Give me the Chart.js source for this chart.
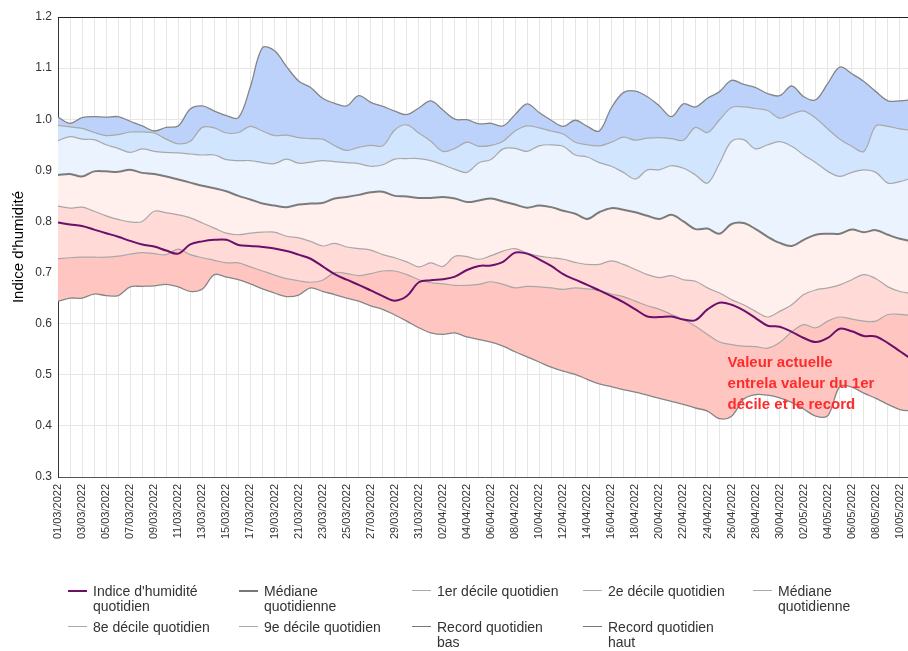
<!DOCTYPE html>
<html>
<head>
<meta charset="utf-8">
<script src="https://cdn.jsdelivr.net/npm/chart.js@4.4.1/dist/chart.umd.min.js"></script>
<style>
html, body { margin: 0; padding: 0; overflow: hidden; background: #fff; }
#wrap { position: relative; width: 908px; height: 651px; overflow: hidden; }
#chart { position: absolute; left: 0; top: 0; }
.leg { position: absolute; font: 14px "Liberation Sans", Arial, sans-serif; color: #333; line-height: 15px; }
.leg i { position: absolute; left: 0; width: 19px; }
.leg span { display: block; margin-left: 25px; white-space: nowrap; }
</style>
</head>
<body>
<div id="wrap">
  <canvas id="chart" width="913" height="651"></canvas>
  <div id="legend"></div>
</div>
<script>
// jours du 01/03/2022 au 11/05/2022
const days = [
  "01/03/2022","02/03/2022","03/03/2022","04/03/2022","05/03/2022","06/03/2022","07/03/2022","08/03/2022","09/03/2022","10/03/2022",
  "11/03/2022","12/03/2022","13/03/2022","14/03/2022","15/03/2022","16/03/2022","17/03/2022","18/03/2022","19/03/2022","20/03/2022",
  "21/03/2022","22/03/2022","23/03/2022","24/03/2022","25/03/2022","26/03/2022","27/03/2022","28/03/2022","29/03/2022","30/03/2022",
  "31/03/2022","01/04/2022","02/04/2022","03/04/2022","04/04/2022","05/04/2022","06/04/2022","07/04/2022","08/04/2022","09/04/2022",
  "10/04/2022","11/04/2022","12/04/2022","13/04/2022","14/04/2022","15/04/2022","16/04/2022","17/04/2022","18/04/2022","19/04/2022",
  "20/04/2022","21/04/2022","22/04/2022","23/04/2022","24/04/2022","25/04/2022","26/04/2022","27/04/2022","28/04/2022","29/04/2022",
  "30/04/2022","01/05/2022","02/05/2022","03/05/2022","04/05/2022","05/05/2022","06/05/2022","07/05/2022","08/05/2022","09/05/2022",
  "10/05/2022","11/05/2022"
];

const humidite = [
  0.798,0.794,0.791,0.784,0.777,0.770,0.762,0.755,0.751,0.743,
  0.737,0.755,0.761,0.764,0.764,0.754,0.752,0.750,0.747,0.742,
  0.735,0.727,0.712,0.697,0.686,0.676,0.665,0.654,0.645,0.654,
  0.681,0.685,0.687,0.692,0.705,0.713,0.714,0.721,0.739,0.737,
  0.726,0.713,0.697,0.686,0.676,0.665,0.654,0.642,0.628,0.614,
  0.613,0.614,0.608,0.607,0.628,0.641,0.637,0.626,0.611,0.596,
  0.594,0.584,0.572,0.564,0.572,0.590,0.585,0.576,0.575,0.562,
  0.546,0.530
];

const recordBas = [
  0.644,0.650,0.650,0.658,0.655,0.655,0.672,0.673,0.674,0.677,
  0.672,0.663,0.668,0.696,0.691,0.686,0.678,0.668,0.660,0.653,
  0.656,0.670,0.663,0.657,0.650,0.644,0.635,0.628,0.617,0.605,
  0.592,0.582,0.579,0.582,0.574,0.569,0.564,0.556,0.545,0.535,
  0.525,0.515,0.507,0.501,0.491,0.482,0.477,0.471,0.466,0.460,
  0.454,0.448,0.442,0.435,0.429,0.414,0.419,0.452,0.461,0.460,
  0.455,0.446,0.433,0.419,0.420,0.477,0.476,0.464,0.454,0.442,
  0.432,0.429
];

const decile1 = [
  0.727,0.729,0.730,0.730,0.730,0.732,0.736,0.739,0.737,0.735,
  0.746,0.735,0.729,0.724,0.719,0.719,0.711,0.703,0.695,0.688,
  0.684,0.681,0.685,0.700,0.698,0.694,0.698,0.703,0.703,0.696,
  0.686,0.680,0.678,0.675,0.675,0.677,0.682,0.677,0.670,0.673,
  0.672,0.670,0.667,0.670,0.668,0.665,0.658,0.653,0.644,0.635,
  0.628,0.618,0.608,0.595,0.579,0.564,0.559,0.556,0.555,0.552,
  0.563,0.584,0.598,0.592,0.605,0.613,0.609,0.605,0.605,0.618,
  0.618,0.616
];

const decile2 = [
  0.830,0.826,0.828,0.820,0.811,0.804,0.799,0.800,0.820,0.817,
  0.813,0.807,0.797,0.787,0.777,0.774,0.777,0.779,0.779,0.771,
  0.768,0.761,0.752,0.757,0.750,0.747,0.744,0.735,0.729,0.721,
  0.711,0.719,0.712,0.732,0.731,0.726,0.733,0.742,0.747,0.738,
  0.732,0.729,0.726,0.720,0.716,0.716,0.723,0.716,0.706,0.696,
  0.690,0.694,0.686,0.683,0.670,0.660,0.647,0.637,0.624,0.613,
  0.624,0.637,0.657,0.666,0.670,0.676,0.686,0.696,0.688,0.672,
  0.663,0.659
];

const mediane = [
  0.891,0.893,0.888,0.898,0.898,0.897,0.901,0.895,0.893,0.888,
  0.882,0.876,0.870,0.865,0.859,0.850,0.843,0.835,0.831,0.828,
  0.833,0.835,0.836,0.845,0.848,0.852,0.857,0.858,0.850,0.849,
  0.846,0.846,0.848,0.845,0.838,0.841,0.845,0.839,0.833,0.827,
  0.831,0.828,0.821,0.815,0.805,0.818,0.826,0.823,0.818,0.811,
  0.805,0.813,0.800,0.785,0.786,0.776,0.795,0.797,0.785,0.770,
  0.758,0.752,0.764,0.774,0.776,0.776,0.784,0.779,0.783,0.774,
  0.766,0.761
];

const decile8 = [
  0.958,0.966,0.961,0.960,0.950,0.943,0.935,0.942,0.937,0.935,
  0.934,0.932,0.930,0.930,0.921,0.919,0.919,0.915,0.913,0.922,
  0.914,0.916,0.919,0.917,0.915,0.913,0.908,0.911,0.922,0.923,
  0.923,0.919,0.911,0.902,0.896,0.915,0.921,0.942,0.943,0.937,
  0.948,0.950,0.947,0.930,0.926,0.915,0.908,0.896,0.883,0.901,
  0.901,0.909,0.904,0.891,0.875,0.914,0.957,0.960,0.942,0.950,
  0.956,0.947,0.930,0.915,0.898,0.888,0.896,0.901,0.896,0.875,
  0.878,0.885
];

const decile9 = [
  0.988,0.985,0.982,0.974,0.968,0.970,0.975,0.975,0.973,0.961,
  0.952,0.957,0.984,0.983,0.973,0.974,0.986,0.977,0.968,0.969,
  0.964,0.962,0.961,0.948,0.939,0.945,0.949,0.948,0.979,0.989,
  0.973,0.957,0.937,0.943,0.955,0.947,0.949,0.957,0.977,0.987,
  0.983,0.977,0.971,0.955,0.950,0.948,0.955,0.965,0.959,0.963,
  0.964,0.962,0.959,0.984,0.974,0.999,1.023,1.024,1.021,1.017,
  1.002,1.010,1.016,1.002,0.981,0.961,0.947,0.937,0.987,0.986,
  0.981,0.978
];

const recordHaut = [
  1.004,0.992,1.003,1.005,1.004,1.005,0.996,0.987,0.977,0.984,
  0.987,1.020,1.026,1.016,1.007,1.003,1.064,1.140,1.134,1.103,
  1.075,1.062,1.041,1.031,1.026,1.046,1.033,1.025,1.016,1.009,
  1.022,1.036,1.018,1.000,0.999,0.991,0.992,0.987,1.009,1.030,
  1.013,0.998,0.986,0.998,0.986,0.977,1.022,1.052,1.055,1.044,
  1.026,1.005,1.030,1.024,1.041,1.054,1.076,1.068,1.062,1.050,
  1.046,1.065,1.044,1.038,1.070,1.102,1.089,1.074,1.054,1.036,
  1.036,1.038
];

const noteLines = ["Valeur actuelle", "entrela valeur du 1er", "décile et le record"];
const notePos = [55.67, 0.524]; // jour, valeur

const font = '"Liberation Sans", Arial, sans-serif';

function serie(label, data, line, width, fill) {
  return {
    label: label,
    data: data,
    borderColor: line,
    borderWidth: width,
    backgroundColor: fill || 'transparent',
    fill: fill ? '-1' : false,
    pointRadius: 0,
    tension: 0.35
  };
}

const extras = {
  id: 'extras',
  afterDraw(chart) {
    const { ctx, chartArea, scales } = chart;
    ctx.save();
    ctx.strokeStyle = '#222';
    ctx.lineWidth = 1;
    ctx.beginPath();
    ctx.moveTo(chartArea.left, chartArea.top + 0.5);
    ctx.lineTo(chartArea.right, chartArea.top + 0.5);
    ctx.stroke();

    ctx.fillStyle = '#ff2b2b';
    ctx.font = 'bold 15px ' + font;
    ctx.textBaseline = 'middle';
    let x = scales.x.getPixelForValue(notePos[0]);
    let y = scales.y.getPixelForValue(notePos[1]);
    noteLines.forEach((t, i) => ctx.fillText(t, x, y + i * 21));
    ctx.restore();
  }
};

new Chart(document.getElementById('chart'), {
  type: 'line',
  data: {
    labels: days,
    datasets: [
      serie("Indice d'humidité quotidien", humidite, '#6b0f6b', 2, null),
      serie('Record quotidien bas', recordBas, '#858585', 1.3, null),
      serie('1er décile quotidien', decile1, '#a8a8a8', 1.2, '#ffc6c1'),
      serie('2e décile quotidien', decile2, '#a8a8a8', 1.2, '#ffdad6'),
      serie('Médiane quotidienne', mediane, '#7b7b7b', 2, '#fff0ed'),
      serie('8e décile quotidien', decile8, '#a8a8a8', 1.2, '#eaf3fe'),
      serie('9e décile quotidien', decile9, '#a8a8a8', 1.2, '#d2e5fe'),
      serie('Record quotidien haut', recordHaut, '#858585', 1.3, '#bdd2fb')
    ]
  },
  options: {
    responsive: false,
    animation: false,
    layout: { padding: { top: 17, right: 1, bottom: 91, left: 0 } },
    plugins: { legend: { display: false }, tooltip: { enabled: false } },
    scales: {
      x: {
        afterFit(s) { s.height = 83; s.paddingLeft = 0; s.paddingRight = 0; },
        ticks: {
          autoSkip: false, maxRotation: 90, minRotation: 90, padding: 7,
          color: '#333', font: { size: 11, family: font },
          callback(v, i) { return i % 2 === 0 ? this.getLabelForValue(v) : ''; }
        },
        grid: { color: '#e6e6e6', drawTicks: false },
        border: { color: '#555' }
      },
      y: {
        min: 0.3, max: 1.2,
        afterFit(s) { s.width = 58; },
        ticks: {
          stepSize: 0.1, padding: 6, color: '#333', font: { size: 12, family: font },
          callback: v => v.toFixed(1)
        },
        grid: { color: '#e6e6e6', drawTicks: false },
        border: { color: '#333' },
        title: {
          display: true, text: "Indice d'humidité", color: '#000',
          font: { size: 15, family: font }, padding: { top: 10, bottom: 0 }
        }
      }
    }
  },
  plugins: [extras]
});

// légende
const legendItems = [
  ["Indice d'humidité<br>quotidien", '#6b0f6b', 2],
  ['Médiane<br>quotidienne', '#777', 2],
  ['1er décile quotidien', '#aaa', 1],
  ['2e décile quotidien', '#aaa', 1],
  ['Médiane<br>quotidienne', '#aaa', 1],
  ['8e décile quotidien', '#aaa', 1],
  ['9e décile quotidien', '#aaa', 1],
  ['Record quotidien<br>bas', '#777', 1],
  ['Record quotidien<br>haut', '#777', 1]
];
const cols = [68, 239, 412, 583, 753];
const rows = [584, 620];
const legend = document.getElementById('legend');
legendItems.forEach((it, k) => {
  const d = document.createElement('div');
  d.className = 'leg';
  d.style.left = cols[k % 5] + 'px';
  d.style.top = rows[Math.floor(k / 5)] + 'px';
  d.innerHTML = '<i style="top:' + (7 - Math.ceil(it[2] / 2)) + 'px;height:' + it[2] + 'px;background:' + it[1] + '"></i><span>' + it[0] + '</span>';
  legend.appendChild(d);
});
</script>
</body>
</html>
